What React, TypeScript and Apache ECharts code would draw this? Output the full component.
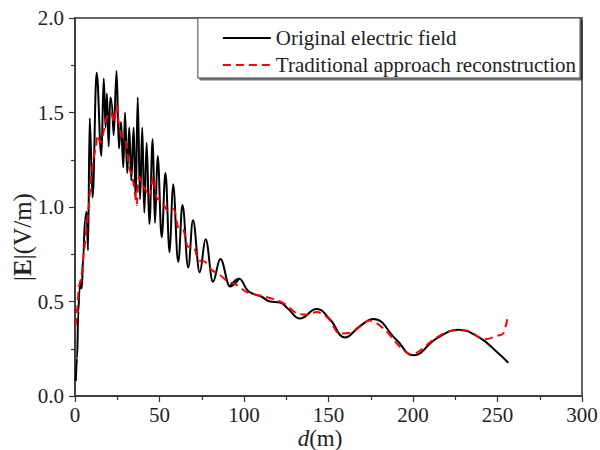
import React, { useEffect, useRef } from "react";
import * as echarts from "echarts";

const xTicks = [0, 50, 100, 150, 200, 250, 300];
const yTicks = [0, 0.5, 1.0, 1.5, 2.0];

const seriesNames = ["Original electric field", "Traditional approach reconstruction"];

// Original electric field, near zone (strong oscillations): distance d (m)
const origNearD = [
  0.5, 1.2, 2.0, 2.6, 3.4, 4.0, 4.9, 5.9, 6.9, 7.7, 8.7, 10.4, 12.8, 15.6, 17.0, 18.1, 18.9, 19.9,
  20.9, 21.8, 22.9, 24.6, 26.0, 27.2, 28.6, 29.6, 30.9, 32.1, 33.3, 34.7, 35.9, 37.1, 38.5, 39.8,
  41.0, 42.4, 44.0, 46.0, 47.3, 48.9, 51.3, 53.5, 56.0, 58.0, 61.1, 63.6, 67.0, 69.8, 73.8, 77.3,
  81.6, 86.0, 91.7, 97.0,
];
// Original electric field, near zone: |E| (V/m)
const origNearE = [
  0.08, 0.2, 0.45, 0.56, 0.6, 0.57, 0.74, 0.93, 0.975, 0.77, 1.47, 1.05, 1.71, 1.27, 1.68, 1.42, 1.6, 1.32,
  1.58, 1.55, 1.38, 1.72, 1.31, 1.45, 1.21, 1.5, 1.18, 1.42, 1.14, 1.42, 1.04, 1.58, 1.04, 1.42,
  0.97, 1.34, 0.91, 1.36, 0.915, 1.27, 0.84, 1.18, 0.76, 1.12, 0.71, 1.01, 0.68, 0.93, 0.655, 0.83,
  0.605, 0.725, 0.58, 0.62,
];
// Original electric field, far zone: distance d (m)
const origFarD = [
  91.7, 97.0, 102, 105.5, 110.4, 115.4, 121.3, 126.2, 133.1, 143, 150.9, 159.8, 168.6,
  176.5, 190.3, 200.2, 214, 226.8, 239.6, 249.5, 256.4,
];
// Original electric field, far zone: |E| (V/m)
const origFarE = [
  0.58, 0.62, 0.56, 0.54, 0.525, 0.5, 0.495, 0.46, 0.41, 0.46, 0.405, 0.31, 0.37,
  0.407, 0.296, 0.215, 0.305, 0.35, 0.307, 0.234, 0.176,
];

// Traditional approach reconstruction: distance d (m)
const tradD = [
  0.4, 1.4, 2.4, 3.8, 5.3, 6.9, 8.3, 9.3, 10.8, 12.4, 13.2, 15.2, 17.2, 19.1, 21.1, 23.1, 24.6, 26,
  28, 30, 32, 33.9, 35.5, 36.5, 37.9, 39.8, 41.8, 43.8, 46.3, 48.3, 51.3, 55.2, 58.2, 61.1, 64.1, 67,
  70, 73, 76.9, 80.9, 85.8, 90.7, 95.7, 101.6, 110.4, 119.3, 125.2, 131.2, 138, 143, 150, 156.8,
  164.6, 174.5, 183.4, 192.3, 199, 214, 223.9, 231.7, 242.4, 250.3, 253.4, 256.4,
];
// Traditional approach reconstruction: |E| (V/m)
const tradE = [
  0.37, 0.47, 0.58, 0.63, 0.76, 0.895, 1.02, 1.13, 1.25, 1.32, 1.38, 1.34, 1.41, 1.48, 1.5, 1.45, 1.54, 1.44,
  1.36, 1.35, 1.21, 1.16, 1.07, 1.01, 1.16, 1.12, 1.09, 1.05, 1.16, 1.05, 1.03, 0.98, 0.99, 0.89, 0.88, 0.79,
  0.79, 0.72, 0.71, 0.667, 0.64, 0.605, 0.587, 0.55, 0.53, 0.508, 0.48, 0.437, 0.43, 0.445, 0.41, 0.33,
  0.34, 0.4, 0.35, 0.26, 0.22, 0.31, 0.346, 0.346, 0.3, 0.32, 0.33, 0.43,
];

const zip = (a: number[], b: number[]) => a.map((v, i) => [v, b[i]]);

const FONT = "Liberation Serif, Times New Roman, serif";

export default function App() {
  const ref = useRef<HTMLDivElement>(null);
  useEffect(() => {
    if (!ref.current) return;
    document.body.style.margin = "0";
    const chart = echarts.init(ref.current, null, { renderer: "svg" });
    const axisLine = { show: true, lineStyle: { color: "#333", width: 1.5 } };
    const blackLine = { color: "#000", width: 2 };
    chart.setOption({
      animation: false,
      backgroundColor: "#fff",
      textStyle: { fontFamily: FONT },
      grid: {
        left: 75,
        right: 18,
        top: 18,
        bottom: 54,
        outerBoundsMode: "none",
        containLabel: false,
        show: true,
        borderColor: "#333",
        borderWidth: 1.5,
        backgroundColor: "transparent",
      },
      xAxis: {
        type: "value",
        min: xTicks[0],
        max: xTicks[xTicks.length - 1],
        interval: 50,
        axisLine,
        axisTick: { show: true, inside: false, length: 6, lineStyle: { color: "#333", width: 1.2 } },
        minorTick: { show: true, splitNumber: 2, length: 4, lineStyle: { color: "#333", width: 1.2 } },
        splitLine: { show: false },
        axisLabel: { fontFamily: FONT, fontSize: 21, lineHeight: 20, color: "#222", margin: 9 },
      },
      yAxis: {
        type: "value",
        min: yTicks[0],
        max: yTicks[yTicks.length - 1],
        interval: 0.5,
        axisLine,
        axisTick: { show: true, inside: false, length: 6, lineStyle: { color: "#333", width: 1.2 } },
        minorTick: { show: true, splitNumber: 2, length: 4, lineStyle: { color: "#333", width: 1.2 } },
        splitLine: { show: false },
        axisLabel: {
          fontFamily: FONT,
          fontSize: 21,
          color: "#222",
          margin: 11,
          formatter: (v: number) => v.toFixed(1),
        },
      },
      graphic: [
        {
          type: "text",
          x: 22,
          y: 237,
          rotation: Math.PI / 2,
          style: {
            text: "|{b|E}|(V/m)",
            fontFamily: FONT,
            fontSize: 25,
            fill: "#222",
            align: "center",
            verticalAlign: "middle",
            rich: { b: { fontFamily: FONT, fontSize: 25, fontWeight: "bold", fill: "#222", color: "#222" } },
          },
        },
        {
          type: "text",
          x: 320,
          y: 438,
          style: {
            text: "{i|d}(m)",
            fontFamily: FONT,
            fontSize: 23,
            lineHeight: 22,
            fill: "#222",
            align: "center",
            verticalAlign: "middle",
            rich: {
              i: { fontFamily: FONT, fontSize: 23, lineHeight: 22, fontStyle: "italic", fill: "#222", color: "#222" },
            },
          },
        },
      ],
      legend: {
        orient: "vertical",
        right: 20,
        top: 18,
        padding: [9, 4, 2, 24],
        itemWidth: 48,
        itemHeight: 20,
        itemGap: 5,
        backgroundColor: "#fff",
        borderColor: "#444",
        borderWidth: 1,
        shadowColor: "rgba(0,0,0,0.55)",
        shadowOffsetX: 2,
        shadowOffsetY: 2,
        shadowBlur: 0,
        itemStyle: { opacity: 0 },
        textStyle: { fontFamily: FONT, fontSize: 21, color: "#222", lineHeight: 22 },
        data: seriesNames,
      },
      series: [
        {
          name: seriesNames[0],
          type: "line",
          data: zip(origNearD, origNearE),
          symbol: "none",
          smooth: 0.4,
          smoothMonotone: "x",
          lineStyle: blackLine,
          itemStyle: { color: "#000" },
          z: 2,
        },
        {
          name: seriesNames[0],
          type: "line",
          data: zip(origFarD, origFarE),
          symbol: "none",
          smooth: 0.45,
          lineStyle: blackLine,
          itemStyle: { color: "#000" },
          z: 2,
        },
        {
          name: seriesNames[1],
          type: "line",
          data: zip(tradD, tradE),
          symbol: "none",
          smooth: 0.3,
          lineStyle: { color: "#ff0000", width: 2, type: [8, 5] },
          itemStyle: { color: "#ff0000" },
          z: 3,
        },
      ],
    });
    return () => chart.dispose();
  }, []);
  return <div ref={ref} style={{ width: 600, height: 450 }} />;
}
